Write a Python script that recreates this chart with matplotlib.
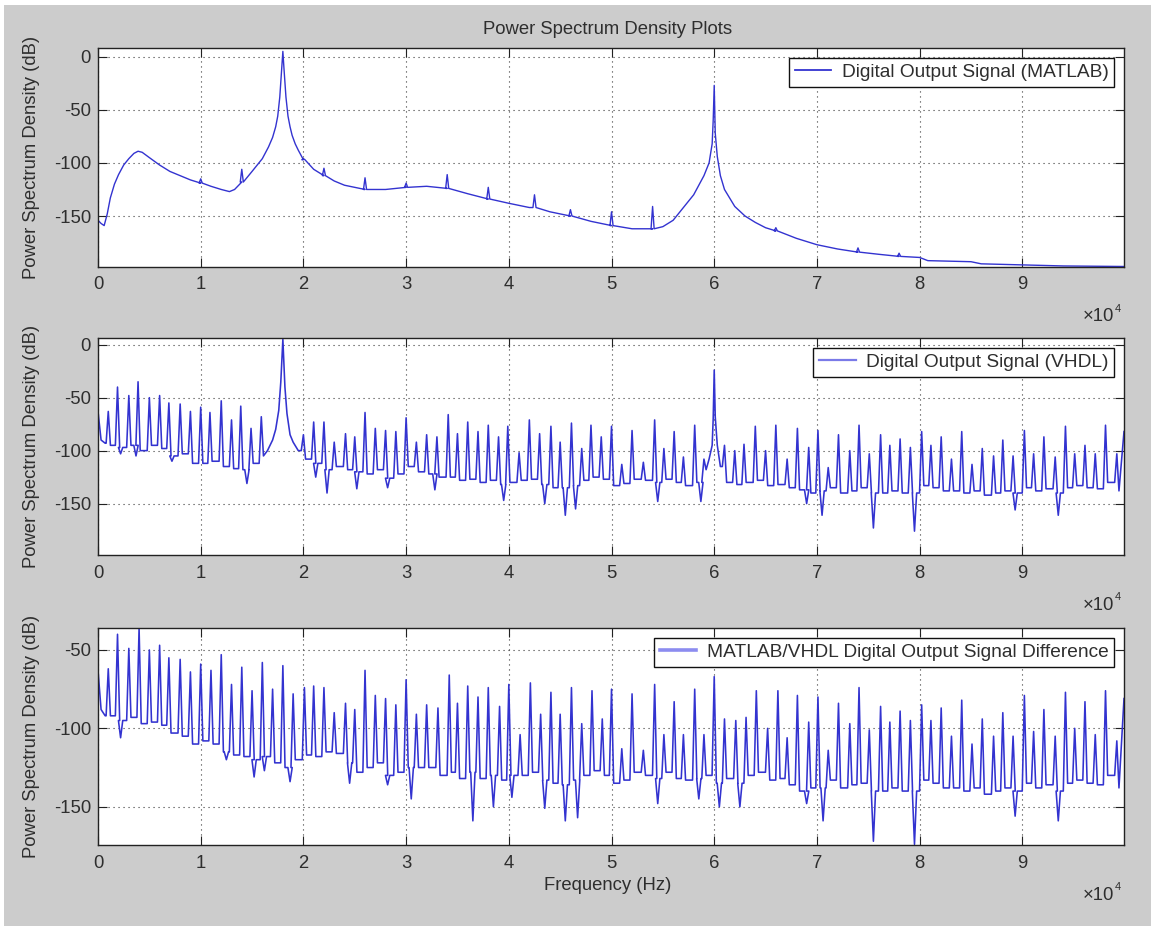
import numpy as np
import matplotlib
matplotlib.use("Agg")
import matplotlib.pyplot as plt
from matplotlib.patches import Rectangle

# ---------------------------------------------------------------------------
# Spectrum data (frequency in Hz, level in dB)
# ---------------------------------------------------------------------------

# MATLAB reference output: smooth spectral envelope
matlab_freq = [0, 300, 600, 900, 1200, 1600, 2000, 2500, 3000, 3500, 3900, 4300,
               5000, 6000, 7000, 8000, 9000, 10000, 11000, 12000, 12800, 13300,
               14000, 15000, 16000, 16600, 17000, 17300, 17500, 17700, 17900,
               18000, 18100, 18300, 18500, 18700, 18900, 19200, 19500, 20000,
               21000, 22000, 23000, 24000, 25000, 26000, 28000, 30000, 32000,
               34000, 36000, 38000, 40000, 42000, 44000, 46000, 48000, 50000,
               52000, 54000, 55000, 56000, 57000, 58000, 59000, 59500, 59800,
               59900, 60000, 60100, 60300, 60600, 61000, 62000, 63000, 64000,
               65000, 66000, 68000, 70000, 72000, 74000, 76000, 78000, 80000,
               80800, 85000, 86000, 90000, 94000, 99900]
matlab_psd = [-154, -157, -159, -148, -133, -120, -111, -102, -96, -91, -89, -90,
              -95, -102, -108, -112, -116, -119, -122, -125, -127, -125,
              -118, -108, -96, -85, -76, -66, -56, -38, -10,
              5, -10, -38, -56, -66, -74, -82, -88, -97,
              -106, -112, -117, -121, -123, -125, -125, -123, -122,
              -124, -129, -134, -138, -142, -146, -150, -155, -159,
              -162, -162, -160, -154, -142, -130, -112, -100, -82,
              -60, -27, -72, -94, -112, -125, -141, -150, -156,
              -161, -164, -171, -177, -181, -184, -186, -188, -189,
              -192, -193, -195, -196, -197, -197.5]
# small tonal spurs riding on the MATLAB envelope
matlab_spur_freq = [10000, 14000, 20000, 22000, 26000, 30000, 34000, 38000,
                    42500, 46000, 50000, 54000, 66000, 74000, 78000]
matlab_spur_psd = [-115, -106, -96, -105, -114, -119, -111, -123,
                   -130, -144, -146, -141, -161, -180, -185]

# VHDL output: broadband floor points and the two signal tones
vhdl_base_freq = [0, 300, 700, 16500, 17000, 17300, 17600, 17800, 18000, 18200,
                  18400, 18700, 19000, 19500, 59500, 59800, 59900, 60000, 60100,
                  60300, 60600, 99900]
vhdl_base_psd = [-63, -90, -93, -100, -90, -80, -62, -35, 5, -40,
                 -65, -85, -92, -100, -108, -95, -70, -24, -68,
                 -95, -115, -82]
# VHDL quantisation spurs: position, peak level, floor level after the spur
vhdl_spur_freq = [1000, 1900, 3000, 3900, 5000, 6000, 6900, 8000, 9000, 10000,
                  10900, 12000, 13000, 13900, 14900, 15900, 20000, 21000, 22000,
                  23000, 24100, 25000, 26000, 27000, 28000, 29000, 30000, 31000,
                  32000, 33000, 34100, 35000, 36000, 37000, 38000, 39000, 39900,
                  41000, 42000, 43000, 44100, 45000, 46100, 47100, 48000, 49000,
                  50000, 51000, 52000, 53100, 54200, 55100, 56100, 57000, 58100,
                  59000, 61000, 62000, 62900, 64000, 65000, 66000, 67100, 68100,
                  69200, 70100, 71100, 72100, 73200, 74100, 75100, 76200, 77100,
                  78100, 79100, 80200, 81100, 82100, 83100, 84100, 85100, 86100,
                  87200, 88100, 89100, 90200, 91100, 92100, 93200, 94200, 95100,
                  96100, 97100, 98100, 99200]
vhdl_spur_peak = [-63, -40, -48, -35, -50, -48, -55, -56, -63, -59,
                  -64, -53, -71, -58, -79, -68, -85, -73, -73,
                  -92, -84, -87, -64, -79, -81, -82, -69, -92,
                  -85, -87, -66, -84, -73, -82, -76, -87, -77,
                  -102, -71, -84, -77, -92, -74, -98, -76, -87,
                  -77, -113, -81, -111, -71, -98, -82, -106, -76,
                  -108, -95, -100, -94, -77, -100, -76, -108, -79,
                  -97, -81, -116, -85, -100, -76, -103, -85, -95,
                  -89, -97, -82, -95, -87, -108, -82, -113, -98,
                  -105, -90, -105, -81, -103, -87, -106, -77, -103,
                  -95, -103, -76, -103]
vhdl_spur_floor = [-95, -97, -95, -100, -95, -98, -105, -103, -112, -112,
                   -110, -115, -117, -118, -112, -105, -108, -112, -118,
                   -115, -118, -120, -122, -118, -126, -122, -115, -120,
                   -122, -125, -125, -128, -127, -130, -128, -132, -130,
                   -128, -127, -132, -135, -135, -133, -128, -125, -127,
                   -133, -131, -127, -128, -130, -127, -130, -133, -130,
                   -118, -130, -132, -130, -128, -133, -132, -135, -137,
                   -140, -138, -135, -140, -138, -135, -140, -140, -138,
                   -140, -140, -133, -135, -138, -138, -140, -138, -142,
                   -140, -138, -140, -135, -138, -136, -140, -135, -133,
                   -135, -136, -130, -138]
# downward notches in the VHDL noise floor
vhdl_notch_freq = [2200, 3700, 7200, 14500, 21200, 22300, 25200, 28200, 32800,
                   39500, 43500, 45500, 46500, 54500, 58700, 69000, 70500,
                   75500, 79500, 89300, 93500]
vhdl_notch_psd = [-103, -105, -110, -131, -125, -140, -136, -135, -137,
                  -147, -150, -161, -155, -148, -148, -150, -161,
                  -173, -176, -156, -161]

# MATLAB/VHDL difference signal
diff_base_freq = [0, 300, 700, 99900]
diff_base_psd = [-63, -88, -92, -81]
diff_spur_freq = [1000, 1900, 3000, 4000, 5000, 6000, 6900, 8000, 9000, 10000,
                  11000, 12000, 13000, 14000, 15000, 16000, 17000, 18000, 19000,
                  20100, 21000, 22000, 23000, 24100, 25000, 26000, 27000, 28000,
                  29000, 30000, 31000, 32000, 33100, 34200, 35000, 36000, 37000,
                  38000, 39100, 40000, 41100, 42100, 43100, 44100, 45000, 46100,
                  47100, 48100, 49100, 50000, 51000, 52000, 53100, 54200, 55100,
                  56100, 57000, 58100, 59000, 60000, 61000, 62100, 63100, 64100,
                  65200, 66200, 67100, 68100, 69200, 70100, 71100, 72100, 73200,
                  74100, 75100, 76200, 77100, 78100, 79100, 80200, 81100, 82100,
                  83100, 84100, 85100, 86100, 87200, 88100, 89100, 90200, 91100,
                  92100, 93200, 94200, 95100, 96100, 97100, 98100, 99200]
diff_spur_peak = [-62, -40, -49, -36, -50, -47, -55, -56, -64, -59,
                  -63, -53, -72, -61, -76, -58, -75, -60, -78,
                  -74, -73, -74, -90, -84, -88, -63, -79, -81,
                  -85, -69, -91, -85, -87, -66, -84, -73, -80,
                  -74, -86, -72, -104, -71, -91, -77, -91, -74,
                  -97, -76, -94, -75, -113, -78, -114, -72, -104,
                  -83, -104, -75, -104, -67, -94, -95, -93, -76,
                  -100, -76, -106, -79, -96, -80, -114, -84, -97,
                  -74, -101, -86, -96, -89, -95, -85, -95, -87,
                  -105, -82, -110, -94, -105, -90, -105, -79, -102,
                  -88, -105, -77, -100, -83, -104, -76, -108]
diff_spur_floor = [-92, -95, -93, -97, -96, -98, -103, -105, -110, -108,
                   -110, -115, -117, -118, -120, -118, -122, -125, -120,
                   -117, -118, -115, -116, -122, -128, -125, -122, -130,
                   -128, -125, -125, -125, -130, -128, -132, -128, -132,
                   -130, -133, -130, -130, -128, -133, -135, -136, -133,
                   -130, -127, -130, -135, -133, -128, -130, -132, -128,
                   -132, -133, -132, -130, -135, -132, -135, -130, -128,
                   -133, -132, -136, -140, -138, -138, -133, -138, -136,
                   -135, -140, -140, -138, -140, -140, -133, -135, -138,
                   -138, -140, -138, -142, -140, -138, -140, -135, -138,
                   -136, -140, -135, -133, -135, -136, -130, -138]
diff_notch_freq = [2200, 12500, 15200, 16200, 18700, 24500, 28200, 30500,
                   36500, 38500, 40300, 43500, 45500, 46700, 54500, 58500,
                   60500, 62500, 69000, 70600, 75500, 79500, 89300, 93500]
diff_notch_psd = [-106, -120, -131, -127, -134, -135, -136, -145,
                  -159, -150, -144, -151, -159, -157, -148, -145,
                  -150, -150, -148, -159, -172, -174, -156, -159]

tick_freq = [0, 10000, 20000, 30000, 40000, 50000, 60000, 70000, 80000, 90000]
tick_text = ["0", "1", "2", "3", "4", "5", "6", "7", "8", "9"]

legend_text = ["Digital Output Signal (MATLAB)",
               "Digital Output Signal (VHDL)",
               "MATLAB/VHDL Digital Output Signal Difference"]
y_ticks = [[0, -50, -100, -150], [0, -50, -100, -150], [-50, -100, -150]]
y_limits = [(-197.7, 7.9), (-198.5, 6.3), (-174.4, -36.0)]


def spectrum_trace(base_f, base_p, spur_f=(), spur_p=(), spur_fl=(),
                   notch_f=(), notch_p=(), half=170.0):
    """Merge floor points, spurs (with their trailing floor) and notches
    into one polyline ordered by frequency."""
    events = [(f, 0, p, None) for f, p in zip(base_f, base_p)]
    events += [(f, 1, p, fl) for f, p, fl in zip(spur_f, spur_p, spur_fl)]
    events += [(f, 2, p, None) for f, p in zip(notch_f, notch_p)]
    events.sort(key=lambda e: (e[0], e[1]))
    xs, ys = [], []
    for f, kind, p, fl in events:
        if kind == 0:
            xs.append(f)
            ys.append(p)
        else:
            prev = ys[-1]
            after = fl if kind == 1 else prev
            xs += [f - half, f, f + half]
            ys += [prev, p, after]
    return np.asarray(xs, float), np.asarray(ys, float)


traces = [
    spectrum_trace(matlab_freq, matlab_psd,
                   notch_f=matlab_spur_freq, notch_p=matlab_spur_psd, half=150.0),
    spectrum_trace(vhdl_base_freq, vhdl_base_psd, vhdl_spur_freq, vhdl_spur_peak,
                   vhdl_spur_floor, vhdl_notch_freq, vhdl_notch_psd, half=210.0),
    spectrum_trace(diff_base_freq, diff_base_psd, diff_spur_freq, diff_spur_peak,
                   diff_spur_floor, diff_notch_freq, diff_notch_psd, half=210.0),
]

# ---------------------------------------------------------------------------
# Figure
# ---------------------------------------------------------------------------
plt.rcParams["font.family"] = ["Liberation Sans", "DejaVu Sans"]
TXT = "#2e2e2e"
FS = 13.3
LEG_FS = 13.8
LINE = "#3333d0"

W, H = 1151, 926
fig = plt.figure(figsize=(W / 100, H / 100), dpi=100, facecolor="#cccccc")
fig.patches.append(Rectangle((0, 1 - 5 / H), 1, 5 / H, transform=fig.transFigure,
                             facecolor="white", edgecolor="none", zorder=-1))
fig.patches.append(Rectangle((0, 0), 4 / W, 1, transform=fig.transFigure,
                             facecolor="white", edgecolor="none", zorder=-1))

left_px, right_px = 98, 1124
panels_px = [(48.3, 266.7), (338.0, 555.0), (628.0, 845.0)]
legend_colors = [LINE, "#7a7ae8", "#8c8cf0"]
legend_lw = [1.3, 1.6, 2.6]
line_widths = [1.0, 1.15, 1.15]

for i, ((top, bot), (fx, py)) in enumerate(zip(panels_px, traces)):
    ax = fig.add_axes([left_px / W, 1 - bot / H, (right_px - left_px) / W,
                       (bot - top) / H])
    ax.set_facecolor("white")
    ax.plot(fx, py, color=LINE, linewidth=line_widths[i], label=legend_text[i])
    ax.set_xlim(0, 99900)
    ax.set_ylim(*y_limits[i])
    ax.set_xticks(tick_freq)
    ax.set_xticklabels(tick_text)
    ax.set_yticks(y_ticks[i])
    ax.set_yticklabels([str(v) for v in y_ticks[i]])
    ax.tick_params(direction="in", length=6.5, width=0.8, top=True, right=True,
                   labelsize=FS, colors="#222222", labelcolor=TXT)
    ax.tick_params(axis="x", pad=7)
    ax.tick_params(axis="y", pad=5)
    ax.grid(True, linestyle=(0, (1, 3.5)), color="#3a3a3a", linewidth=0.8)
    for sp in ax.spines.values():
        sp.set_color("#222222")
        sp.set_linewidth(1.0)

    leg = ax.legend(loc="upper right", fontsize=LEG_FS, fancybox=False,
                    edgecolor="#111111", framealpha=1.0, borderpad=0.3,
                    borderaxespad=0.5, handlelength=1.9, handletextpad=0.55)
    leg.get_frame().set_linewidth(1.0)
    for t in leg.get_texts():
        t.set_color(TXT)
    hl = leg.get_lines()[0]
    hl.set_color(legend_colors[i])
    hl.set_linewidth(legend_lw[i])

    # y-axis caption and the x10^4 scale marker
    fig.text(31.5 / W, 1 - (top + bot) / 2 / H, "Power Spectrum Density (dB)",
             rotation=90, ha="center", va="center", fontsize=FS, color=TXT)
    ymark = 1 - (bot + 50) / H
    fig.text(1114 / W, ymark, "\u00d710", ha="right", va="center",
             fontsize=FS, color=TXT)
    fig.text(1115 / W, ymark + 8 / H, "4", ha="left", va="center",
             fontsize=8, color=TXT)

fig.text(608 / W, 1 - 30 / H, "Power Spectrum Density Plots", ha="center",
         va="center", fontsize=FS, color=TXT)
fig.text(608 / W, 1 - 885 / H, "Frequency (Hz)", ha="center", va="center",
         fontsize=FS, color=TXT)

fig.savefig("out.png", dpi=100, facecolor=fig.get_facecolor())
